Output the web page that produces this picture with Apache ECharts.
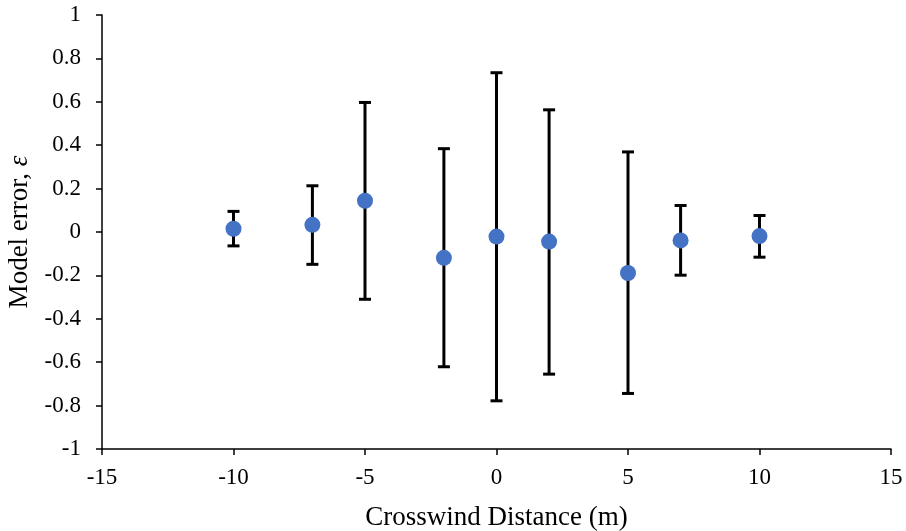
<!DOCTYPE html>
<html><head><meta charset="utf-8">
<script src="https://cdn.jsdelivr.net/npm/echarts@6/dist/echarts.min.js"></script>
<style>html,body{margin:0;padding:0;background:#fff}#c{width:906px;height:531px}</style>
</head><body><div id="c"></div>
<script>
const xValues = [-10, -7, -5, -2, 0, 2, 5, 7, 10];
const meanError = [0.015, 0.033, 0.144, -0.119, -0.021, -0.044, -0.189, -0.039, -0.019];
const upperError = [0.095, 0.213, 0.597, 0.384, 0.734, 0.563, 0.369, 0.122, 0.076];
const lowerError = [-0.064, -0.149, -0.310, -0.621, -0.778, -0.655, -0.744, -0.199, -0.116];

const font = '"Liberation Serif", "Times New Roman", serif';
const chart = echarts.init(document.getElementById('c'));
chart.setOption({
  animation: false,
  grid: {left: 102, right: 15, top: 15, bottom: 82, containLabel: false, outerBoundsMode: 'none'},
  xAxis: {
    type: 'value', min: -15, max: 15, interval: 5,
    name: 'Crosswind Distance (m)', nameLocation: 'middle', nameGap: 55,
    nameTextStyle: {fontFamily: font, fontSize: 27, color: '#000'},
    axisLine: {onZero: false, lineStyle: {color: '#000', width: 1.5}},
    axisTick: {show: true, length: 6, lineStyle: {color: '#000', width: 1.5}},
    axisLabel: {fontFamily: font, fontSize: 23, color: '#000', margin: 17},
    splitLine: {show: false}
  },
  yAxis: {
    type: 'value', min: -1, max: 1, interval: 0.2,
    name: '{a|Model error, }{b|ε}', nameLocation: 'middle', nameGap: 66,
    nameTextStyle: {rich: {
      a: {fontFamily: font, fontSize: 27, color: '#000'},
      b: {fontFamily: font, fontSize: 27, color: '#000', fontStyle: 'italic'}
    }},
    axisLine: {show: true, onZero: false, lineStyle: {color: '#000', width: 1.5}},
    axisTick: {show: true, length: 6, lineStyle: {color: '#000', width: 1.5}},
    axisLabel: {fontFamily: font, fontSize: 23, color: '#000', margin: 21,
      formatter: v => String(Math.round(v * 10) / 10)},
    splitLine: {show: false}
  },
  series: [
    {
      type: 'custom',
      data: xValues.map((x, i) => [x, lowerError[i], upperError[i]]),
      renderItem: function (params, api) {
        const x = api.value(0);
        const lo = api.coord([x, api.value(1)]);
        const hi = api.coord([x, api.value(2)]);
        const hw = 6;
        const st = {stroke: '#000', lineWidth: 3};
        return {type: 'group', children: [
          {type: 'line', shape: {x1: lo[0], y1: lo[1], x2: hi[0], y2: hi[1]}, style: st},
          {type: 'line', shape: {x1: lo[0] - hw, y1: lo[1], x2: lo[0] + hw, y2: lo[1]}, style: st},
          {type: 'line', shape: {x1: hi[0] - hw, y1: hi[1], x2: hi[0] + hw, y2: hi[1]}, style: st}
        ]};
      },
      z: 1
    },
    {
      type: 'scatter',
      data: xValues.map((x, i) => [x, meanError[i]]),
      symbol: 'circle', symbolSize: 16,
      itemStyle: {color: '#4472C4', opacity: 1},
      z: 2
    }
  ]
});
</script></body></html>
